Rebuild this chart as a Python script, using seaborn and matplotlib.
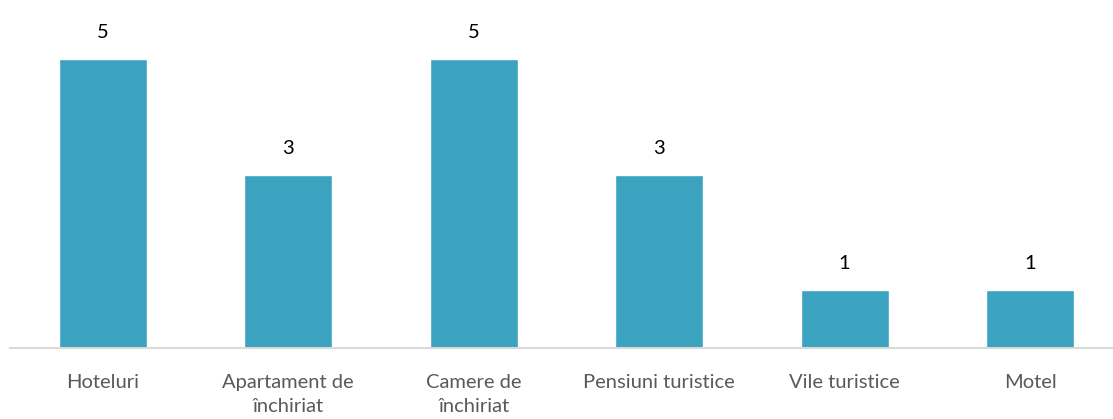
import matplotlib
matplotlib.use("Agg")
import matplotlib.pyplot as plt
import seaborn as sns
import pandas as pd

categories = ["Hoteluri", "Apartament de\nînchiriat", "Camere de\nînchiriat",
              "Pensiuni turistice", "Vile turistice", "Motel"]
values = [5, 3, 5, 3, 1, 1]

sns.set_theme(style="white")
plt.rcParams['font.family'] = ['Lato', 'DejaVu Sans']

df = pd.DataFrame({"cat": categories, "val": values})

W, H = 1113, 419
fig = plt.figure(figsize=(W / 100, H / 100), dpi=100)
ax = fig.add_axes([10 / W, (H - 348) / H, 1111 / W, 348 / H])

sns.barplot(data=df, x="cat", y="val", color="#3BA3BF", saturation=1,
            width=0.475, ax=ax)

ax.set_ylim(0, 348 / 57.8)
ax.set_xlim(-0.5, 5.49)
ax.set_xlabel("")
ax.set_ylabel("")
ax.set_yticks([])
for s in ["top", "right", "left"]:
    ax.spines[s].set_visible(False)
ax.spines["bottom"].set_color("#D9D9D9")
ax.spines["bottom"].set_linewidth(1.5)
ax.tick_params(axis="x", length=0, pad=19, labelsize=14.5, labelcolor="#595959")
for lbl in ax.get_xticklabels():
    lbl.set_linespacing(1.5)

for container in ax.containers:
    ax.bar_label(container, labels=[str(v) for v in values], padding=13,
                 fontsize=14.5, color="#000000")

fig.savefig("out.png", dpi=100)
